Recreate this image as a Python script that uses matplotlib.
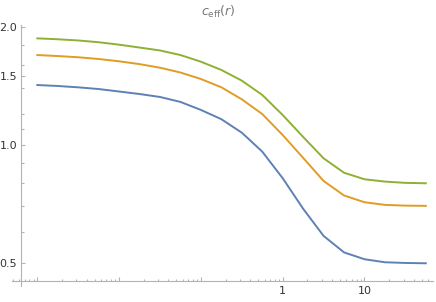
import numpy as np
import matplotlib
matplotlib.use('Agg')
from matplotlib import pyplot as plt
from matplotlib.ticker import FixedLocator, NullFormatter, FixedFormatter

# sample points r (log spaced, quarter decades)
r = [0.001, 0.00178, 0.00316, 0.00562, 0.01, 0.0178, 0.0316, 0.0562,
     0.1, 0.178, 0.316, 0.562, 1.0, 1.78, 3.16, 5.62, 10.0, 17.8, 31.6, 56.2]

c_blue = [1.421, 1.413, 1.402, 1.388, 1.368, 1.348, 1.325, 1.287, 1.228, 1.163,
          1.075, 0.962, 0.823, 0.688, 0.587, 0.533, 0.512, 0.503, 0.501, 0.500]
c_orange = [1.694, 1.684, 1.672, 1.655, 1.633, 1.606, 1.573, 1.529, 1.472, 1.402,
            1.307, 1.199, 1.060, 0.927, 0.810, 0.744, 0.715, 0.704, 0.701, 0.700]
c_green = [1.868, 1.858, 1.845, 1.826, 1.800, 1.770, 1.740, 1.694, 1.629, 1.552,
           1.458, 1.341, 1.192, 1.048, 0.925, 0.850, 0.818, 0.807, 0.801, 0.799]

y_major = [0.5, 1.0, 1.5, 2.0]
y_labels = ['0.5', '1.0', '1.5', '2.0']
y_minor = [0.6, 0.7, 0.8, 0.9, 1.1, 1.2, 1.4, 1.6, 1.8]
x_major = [0.001, 0.01, 0.1, 1, 10]
x_labels = ['', '', '', '1', '10']

axis_col = '#b3b3b3'
text_col = '#333333'

fig = plt.figure(figsize=(4.36, 3.02), dpi=100)
W, H = 436, 302
# axes box in pixels: left 12, right 433, top 25, bottom 286
ax = fig.add_axes([12 / W, (H - 286) / H, (433 - 12) / W, (286 - 25) / H])

ax.plot(r, c_blue, color='#5E81B5', lw=1.4)
ax.plot(r, c_orange, color='#E19C24', lw=1.4)
ax.plot(r, c_green, color='#8FB032', lw=1.4)

ax.set_xscale('log')
ax.set_yscale('log')
ax.set_xlim(4.9e-4, 68.8)
ax.set_ylim(0.4377, 2.02)

for s in ['top', 'right']:
    ax.spines[s].set_visible(False)
ax.spines['left'].set_position(('data', 6.27e-4))
ax.spines['bottom'].set_position(('data', 0.451))
for s in ['left', 'bottom']:
    ax.spines[s].set_color(axis_col)
    ax.spines[s].set_linewidth(0.8)

ax.yaxis.set_major_locator(FixedLocator(y_major))
ax.yaxis.set_major_formatter(FixedFormatter(y_labels))
ax.yaxis.set_minor_locator(FixedLocator(y_minor))
ax.yaxis.set_minor_formatter(NullFormatter())

x_minor = [m * d for d in [1e-4, 1e-3, 1e-2, 1e-1, 1, 10] for m in range(2, 10)]
ax.xaxis.set_major_locator(FixedLocator(x_major))
ax.xaxis.set_major_formatter(FixedFormatter(x_labels))
ax.xaxis.set_minor_locator(FixedLocator(x_minor))
ax.xaxis.set_minor_formatter(NullFormatter())

ax.tick_params(which='both', direction='in', color=axis_col, width=0.8,
               labelsize=8, labelcolor=text_col)
ax.tick_params(which='major', length=3.2)
ax.tick_params(axis='y', which='major', pad=2.5)
ax.tick_params(axis='x', which='major', pad=3.5)
ax.tick_params(which='minor', length=1.8)

fig.text(218 / W, 1 - 12 / H, r'$c_{\mathrm{eff}}(r)$', ha='center', va='center',
         fontsize=9, color='#777777')

plt.savefig('out.png', dpi=100)
